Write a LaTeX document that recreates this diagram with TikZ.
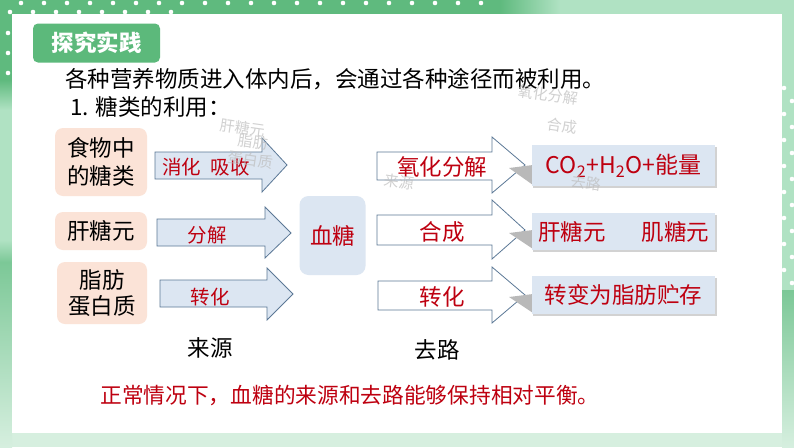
\documentclass[tikz,border=0pt]{standalone}
\usepackage{fontspec}
\setmainfont{Noto Sans CJK SC}
\definecolor{frameDark}{HTML}{5FBA7E}
\definecolor{frameLight}{HTML}{B0E2C3}
\definecolor{frameMid}{HTML}{7CC897}
\definecolor{mint}{HTML}{D6EFDF}
\definecolor{tagGreen}{HTML}{5CB97B}
\definecolor{peach}{HTML}{FBE3D7}
\definecolor{paleBlue}{HTML}{DCE6F2}
\definecolor{steel}{HTML}{5B7896}
\definecolor{darkRed}{HTML}{BE0010}
\definecolor{ghost}{HTML}{BDBDBD}
\tikzset{
  txt/.style={font=\fontsize{22.5}{28}\selectfont, inner sep=0pt, align=center},
  redtxt/.style={txt, text=darkRed},
  srcbox/.style={txt, fill=peach, rounded corners=8pt, text=black},
  arrowlbl/.style={font=\fontsize{19.5}{24}\selectfont, text=darkRed, inner sep=0pt},
  blockarrowL/.style={fill=paleBlue, draw=steel, line width=0.8pt, line join=miter},
  blockarrowR/.style={fill=white, draw=steel, line width=0.8pt, line join=miter},
  dstbox/.style={redtxt, fill=paleBlue, minimum width=183pt},
  wedge/.style={fill=gray!55},
  boxshadow/.style={fill=gray!35},
  ghosttxt/.style={font=\fontsize{15}{18}\selectfont, text=ghost, inner sep=0pt, align=center, opacity=0.7, rotate=-8}
}
\begin{document}
\begin{tikzpicture}[x=1pt,y=-1pt]
\useasboundingbox (0,0) rectangle (794,447);
% ---- frame ----
\fill[mint] (0,0) rectangle (794,447);
\fill[frameDark] (0,0) rectangle (12,80);
\shade[top color=frameDark, bottom color=frameLight] (0,80) rectangle (12,110);
\fill[frameLight] (0,110) rectangle (12,240);
\shade[top color=frameLight, bottom color=frameMid] (0,240) rectangle (12,262);
\shade[top color=frameMid, bottom color=mint] (0,262) rectangle (12,447);
\fill[frameDark] (0,0) rectangle (500,14);
\shade[left color=frameDark, right color=frameLight] (500,0) rectangle (560,14);
\fill[frameLight] (560,0) rectangle (794,14);
\fill[frameLight] (782,14) rectangle (794,290);
\shade[top color=frameMid, bottom color=mint] (782,290) rectangle (794,447);
\fill[white] (12,14) rectangle (782,433);
\foreach \x in {21,44,...,495} \fill[white] (\x,3) circle (2.3);
\foreach \x in {10,33,...,175} \fill[white] (\x,12) circle (2.3);
\foreach \y in {33,53,73} \fill[white] (8,\y) circle (2.3);
\foreach \y in {88,114,...,287} \fill[white] (784,\y) circle (2.3);
\foreach \y in {101,127,...,287} \fill[white] (792,\y) circle (2.3);
% ---- header ----
\node[fill=tagGreen, rounded corners=5pt, minimum width=127pt, minimum height=39pt, inner sep=0pt,
      font=\fontsize{22.5}{27}\selectfont\bfseries, text=white] (tag) at (96.5,43) {探究实践};
\node[txt, anchor=west, text=black] (intro) at (65,79) {各种营养物质进入体内后，会通过各种途径而被利用。};
\node[txt, anchor=west, text=black] (sub) at (70,107) {1. 糖类的利用：};
% ---- ghost reflections ----
\node[ghosttxt] (g1) at (243,128) {肝糖元};
\node[ghosttxt] (g2) at (548,95) {氧化分解};
\node[ghosttxt] (g3) at (562,126) {合成};
% ---- source boxes ----
\node[srcbox, minimum width=92pt, minimum height=68pt] (food) at (101,162) {食物中\\的糖类};
\node[srcbox, minimum width=92pt, minimum height=38pt] (glyc) at (101,231) {肝糖元};
\node[srcbox, minimum width=90pt, minimum height=62pt, font=\fontsize{22.5}{26}\selectfont] (fat) at (102,293) {脂肪\\蛋白质};
% ---- left arrows ----
\draw[blockarrowL] (155,152) -- (262,152) -- (262,138) -- (287,165) -- (262,192) -- (262,179) -- (155,179) -- cycle;
\draw[blockarrowL] (157,219) -- (265,219) -- (265,207) -- (291,233) -- (265,258) -- (265,246) -- (157,246) -- cycle;
\draw[blockarrowL] (160,280) -- (267,280) -- (267,268) -- (293,294) -- (267,320) -- (267,307) -- (160,307) -- cycle;
\node[arrowlbl] (l1) at (206,167) {消化\hspace{0.5em}吸收};
\node[arrowlbl] (l2) at (207,235) {分解};
\node[arrowlbl] (l3) at (210,297) {转化};
\node[ghosttxt] (g4) at (252,151) {脂肪\\蛋白质};
% ---- blood sugar ----
\node[redtxt, fill=paleBlue, rounded corners=9pt, minimum width=66pt, minimum height=79pt] (blood) at (332.5,235.5) {血糖};
% ---- right arrows ----
\draw[blockarrowR] (377,152) -- (492,152) -- (492,137) -- (525,165) -- (492,193) -- (492,180) -- (377,180) -- cycle;
\draw[blockarrowR] (377,215) -- (492,215) -- (492,200) -- (525,230) -- (492,259) -- (492,245) -- (377,245) -- cycle;
\draw[blockarrowR] (378,281) -- (492,281) -- (492,267) -- (525,295) -- (492,323) -- (492,310) -- (378,310) -- cycle;
\node[redtxt] (r1) at (442,167) {氧化分解};
\node[redtxt] (r2) at (442,232) {合成};
\node[redtxt] (r3) at (442,297) {转化};
\node[ghosttxt] (g5) at (399,182) {来源};
% ---- shadows ----
\fill[wedge] (509,168) -- (533,165) -- (533,185) -- cycle;
\fill[wedge] (509,233) -- (533,230) -- (533,249) -- cycle;
\fill[wedge] (509,297) -- (533,294) -- (533,313) -- cycle;
\fill[boxshadow] (533,147) rectangle (717,188);
\fill[boxshadow] (533,215) rectangle (717,252);
\fill[boxshadow] (533,278) rectangle (717,316);
% ---- destination boxes ----
\node[dstbox, minimum height=41pt, font=\fontsize{23}{28}\selectfont] (d1) at (623.5,165.5) {CO\textsubscript{2}+H\textsubscript{2}O+能量};
\node[dstbox, minimum height=37pt] (d2) at (623.5,231.5) {肝糖元\hspace{36pt}肌糖元};
\node[dstbox, minimum height=38pt] (d3) at (623.5,295) {转变为脂肪贮存};
\node[ghosttxt] (g6) at (586,183) {去路};
% ---- captions ----
\node[txt, text=black] (src) at (210,348) {来源};
\node[txt, text=black] (dst) at (437,350) {去路};
\node[txt, font=\fontsize{21.7}{26}\selectfont, text=darkRed] (note) at (350,395) {正常情况下，血糖的来源和去路能够保持相对平衡。};
\end{tikzpicture}
\end{document}
